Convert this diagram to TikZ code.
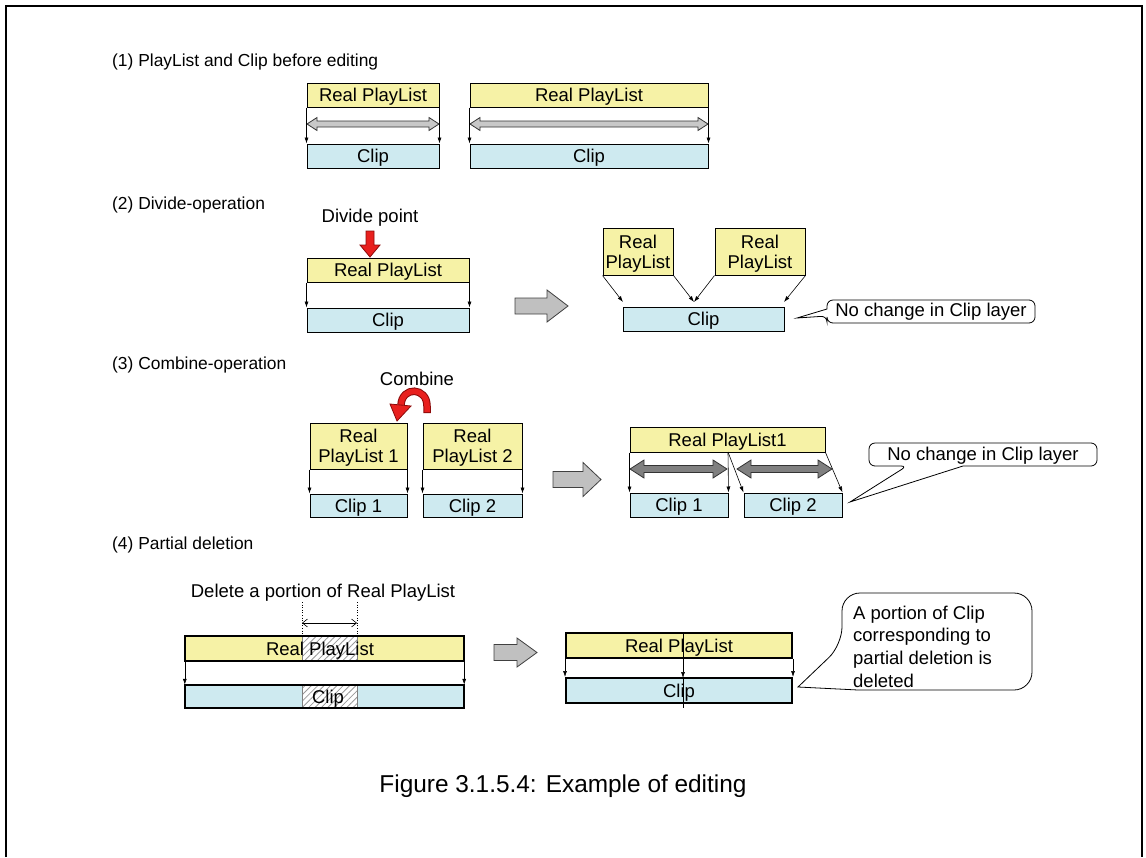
\documentclass[tikz,border=0pt]{standalone}
\usepackage{fontspec}
\setmainfont{Liberation Sans}
\usetikzlibrary{arrows.meta,patterns.meta}
\definecolor{ylw}{RGB}{246,242,166}
\definecolor{clipc}{RGB}{206,234,240}
\definecolor{blkgray}{RGB}{192,192,192}
\definecolor{dblgray}{RGB}{200,200,200}
\definecolor{dkgray}{RGB}{128,128,128}
\definecolor{redf}{RGB}{232,32,30}
\definecolor{redd}{RGB}{140,10,10}
\tikzset{
 box/.style={draw=black, line width=1pt, inner sep=0pt, text depth=0pt, font=\fontsize{18.5}{20}\selectfont, align=center},
 rpl/.style={box, fill=ylw},
 clp/.style={box, fill=clipc},
 conn/.style={-{Latex[length=6pt,width=4pt]}, line width=0.6pt},
 lbl/.style={anchor=west, inner sep=0pt, font=\fontsize{17.4}{20}\selectfont},
 txt/.style={inner sep=0pt, font=\fontsize{18.5}{20}\selectfont},
 blockarrow/.style={fill=blkgray, draw=black!75, line width=0.8pt},
 callout/.style={fill=white, draw=black, line width=0.8pt},
 hatch/.style={fill=white},
 hatchlines/.style={pattern={Lines[angle=45,distance=4.5pt,line width=0.8pt]}, pattern color=gray!80},
}
% double block arrow: x1, x2, y, half shaft, half head, head length, fill
\newcommand{\dblarr}[7]{%
 \draw[fill=#7, draw=black!80, line width=0.8pt] (#1,#3) -- ({#1+#6},{#3-#5}) -- ({#1+#6},{#3-#4}) -- ({#2-#6},{#3-#4}) -- ({#2-#6},{#3-#5}) -- (#2,#3) -- ({#2-#6},{#3+#5}) -- ({#2-#6},{#3+#4}) -- ({#1+#6},{#3+#4}) -- ({#1+#6},{#3+#5}) -- cycle;}
% right block arrow: x1, xhead, x2, y, half shaft, half head
\newcommand{\rblk}[6]{%
 \draw[blockarrow] (#1,{#4-#5}) -- (#2,{#4-#5}) -- (#2,{#4-#6}) -- (#3,#4) -- (#2,{#4+#6}) -- (#2,{#4+#5}) -- (#1,{#4+#5}) -- cycle;}
\begin{document}
\begin{tikzpicture}[x=1pt,y=-1pt]
\useasboundingbox (0,0) rectangle (1146,857);
\draw[line width=2pt] (6,857) -- (6,6) -- (1142,6) -- (1142,857);

% ---------- (1)
\node[lbl] (l1) at (112,62) {(1) PlayList and Clip before editing};
\node[rpl, minimum width=132, minimum height=24] (r1) at (373,95) {Real PlayList};
\node[clp, minimum width=132, minimum height=24] (c1) at (373,156) {Clip};
\dblarr{307}{439}{124}{3}{6.5}{10}{dblgray}
\draw[conn] (r1.south west) -- (c1.north west);
\draw[conn] (r1.south east) -- (c1.north east);
\node[rpl, minimum width=238, minimum height=24] (r2) at (589,95) {Real PlayList};
\node[clp, minimum width=238, minimum height=24] (c2) at (589,156) {Clip};
\dblarr{470}{708}{124}{3}{6.5}{10}{dblgray}
\draw[conn] (r2.south west) -- (c2.north west);
\draw[conn] (r2.south east) -- (c2.north east);

% ---------- (2)
\node[lbl] (l2) at (112,205) {(2) Divide-operation};
\node[txt] (dp) at (370,218) {Divide point};
\draw[fill=redf, draw=redd, line width=0.8pt] (366,231) -- (374,231) -- (374,245) -- (380,245) -- (370,257) -- (360,245) -- (366,245) -- cycle;
\node[rpl, minimum width=162, minimum height=24] (r3) at (388,270) {Real PlayList};
\node[clp, minimum width=162, minimum height=24] (c3) at (388,320) {Clip};
\draw[conn] (r3.south west) -- (c3.north west);
\draw[conn] (r3.south east) -- (c3.north east);
\rblk{515}{547}{568}{306}{8}{16}
\node[rpl, minimum width=70, minimum height=47] (ra) at (638,251.5) {Real\\PlayList};
\node[rpl, minimum width=90, minimum height=47] (rb) at (760,251.5) {Real\\PlayList};
\node[clp, minimum width=161, minimum height=24] (cd) at (703.5,319) {Clip};
\coordinate (ta) at (623,302);
\coordinate (tm) at (694,302);
\coordinate (tb) at (784,302);
\draw[conn] (ra.south west) -- (ta);
\draw[conn] (ra.south east) -- (tm);
\draw[conn] (rb.south west) -- (tm);
\draw[conn] (rb.south east) -- (tb);
\draw[callout] (827,316) -- (797,318) -- (827,309) [rounded corners=6] -- (827,300) -- (1035,300) -- (1035,323) -- (827,323) -- cycle;
\node[txt] (co2) at (931,312) {No change in Clip layer};

% ---------- (3)
\node[lbl] (l3) at (112,365) {(3) Combine-operation};
\node[txt] (cb) at (417,379) {Combine};
\draw[redd, line width=7.5pt] (427,413) -- (427,406) .. controls (427,387) and (402,386) .. (401,405);
\draw[redf, line width=5.5pt] (427,412.2) -- (427,406) .. controls (427,387) and (402,386) .. (401,405);
\draw[fill=redf, draw=redd, line width=0.8pt] (390,404) -- (411,406) -- (397,421) -- cycle;
\node[rpl, minimum width=97, minimum height=46] (p1) at (358.5,446) {Real\\PlayList 1};
\node[rpl, minimum width=99, minimum height=46] (p2) at (472.5,446) {Real\\PlayList 2};
\node[clp, minimum width=97, minimum height=23] (q1) at (358.5,505.5) {Clip 1};
\node[clp, minimum width=99, minimum height=23] (q2) at (472.5,505.5) {Clip 2};
\draw[conn] (p1.south west) -- (q1.north west);
\draw[conn] (p1.south east) -- (q1.north east);
\draw[conn] (p2.south west) -- (q2.north west);
\draw[conn] (p2.south east) -- (q2.north east);
\rblk{553}{583}{601}{479.5}{8}{17}
\node[rpl, minimum width=195, minimum height=25] (pc) at (727.5,439.5) {Real PlayList1};
\node[clp, minimum width=98, minimum height=24] (qa) at (679,505) {Clip 1};
\node[clp, minimum width=98, minimum height=24] (qb) at (793,505) {Clip 2};
\coordinate (pm) at (728,452);
\dblarr{630}{727}{469}{3.5}{9}{14}{dkgray}
\dblarr{737}{832}{469}{3.5}{9}{14}{dkgray}
\draw[conn] (pc.south west) -- (qa.north west);
\draw[conn] (pm) -- (qa.north east);
\draw[conn] (pm) -- (qb.north west);
\draw[conn] (pc.south east) -- (qb.north east);
\draw[callout] (907,466) -- (850,502) -- (963,466) [rounded corners=6] -- (1097,466) -- (1097,443) -- (869,443) -- (869,466) -- cycle;
\node[txt] (co3) at (983,455.5) {No change in Clip layer};

% ---------- (4)
\node[lbl] (l4) at (112,545) {(4) Partial deletion};
\node[txt] (dl) at (323,593) {Delete a portion of Real PlayList};
\coordinate (d1) at (302,602);
\coordinate (d2) at (357,602);
\node[fill=ylw, minimum width=279, minimum height=25, inner sep=0pt] (r4) at (324.5,648.5) {};
\node[fill=clipc, minimum width=279, minimum height=23, inner sep=0pt] (c4) at (324.5,696.5) {};
\foreach \ya/\yb in {636/661, 685/708} {
  \path[hatch] (302,\ya) rectangle (357,\yb);
  \path[hatchlines] (302,\ya) rectangle (357,\yb);
  \draw[gray, line width=0.7pt] (302,\ya) rectangle (357,\yb);
}
\draw[line width=2pt] (r4.north west) rectangle (r4.south east);
\draw[line width=2pt] (c4.north west) rectangle (c4.south east);
\node[txt, text depth=0pt] (r4t) at (320,648.5) {Real PlayList};
\node[txt, text depth=0pt] (c4t) at (328,696.5) {Clip};
\draw[dotted, line width=0.6pt] (d1) -- (302,636);
\draw[dotted, line width=0.6pt] (d2) -- (357,636);
\draw[{Straight Barb[length=5pt,width=8pt]}-{Straight Barb[length=5pt,width=8pt]}, line width=0.6pt] (302,623) -- (357,623);
\draw[conn] (r4.south west) -- (c4.north west);
\draw[conn] (r4.south east) -- (c4.north east);
\rblk{494}{517}{537}{652.5}{8}{14.5}
\node[rpl, line width=2pt, minimum width=226, minimum height=25] (r5) at (679,645.5) {Real PlayList};
\node[clp, line width=2pt, minimum width=226, minimum height=25] (c5) at (679,690.5) {Clip};
\coordinate (v1) at (683,633);
\coordinate (v2) at (683,658);
\coordinate (v3) at (683,678);
\coordinate (v4) at (683,708);
\draw[line width=0.8pt] (v1) -- (v2);
\draw[line width=0.8pt] (v3) -- (v4);
\draw[conn] (r5.south west) -- (c5.north west);
\draw[conn] (v2) -- (v3);
\draw[conn] (r5.south east) -- (c5.north east);
\draw[callout] (842,645) -- (798,687) -- (858,690) [rounded corners=18] -- (1032,690) -- (1032,593) -- (842,593) -- cycle;
\node[txt, anchor=west, align=left, font=\fontsize{18.5}{22.7}\selectfont] (co4) at (853,646.5) {A portion of Clip\\corresponding to\\partial deletion is\\deleted};

% ---------- caption
\node[inner sep=0pt, font=\fontsize{24.4}{28}\selectfont] (cap) at (563,786) {Figure 3.1.5.4: Example of editing};
\end{tikzpicture}
\end{document}
